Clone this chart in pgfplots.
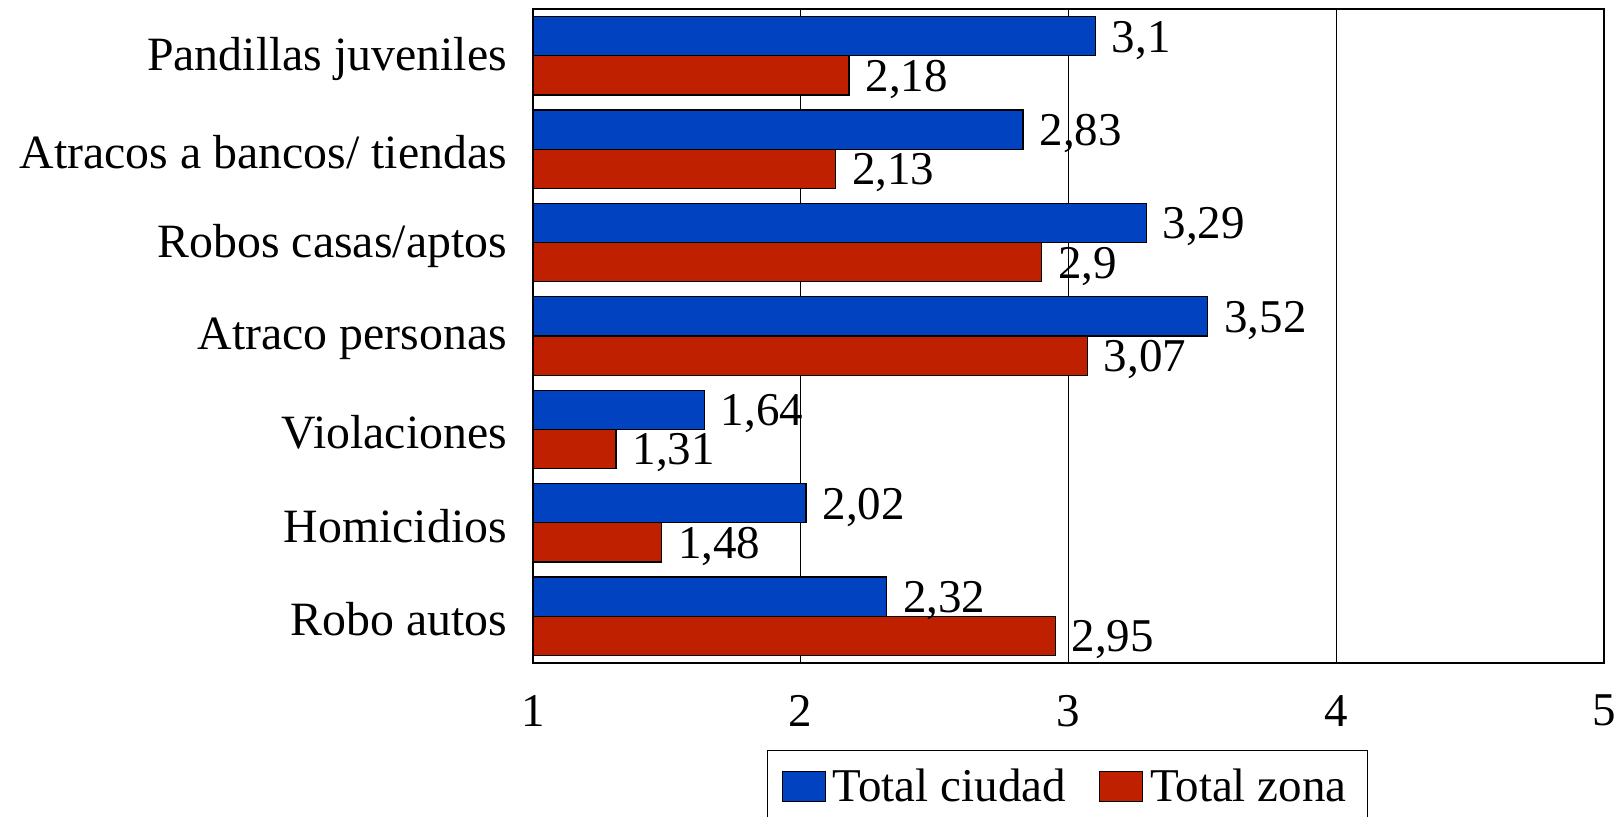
\documentclass[border=0pt]{standalone}
\usepackage{fontspec}
\setmainfont{Liberation Serif}
\usepackage{pgfplots}
\pgfplotsset{compat=1.18}
\definecolor{cblue}{RGB}{0,66,192}
\definecolor{cred}{RGB}{190,32,0}
\newcommand{\fz}{\fontsize{23.5}{28}\selectfont}
\newcommand{\fy}{\fontsize{23.9}{28}\selectfont}
\begin{document}
\begin{tikzpicture}[font=\fz]
\begin{axis}[
  name=ax,
  xbar,
  scale only axis,
  width=535.5pt, height=327pt,
  xmin=1, xmax=5,
  ymin=-0.5, ymax=6.5,
  y dir=reverse,
  xtick={1,2,3,4,5},
  ytick={0,1,2,3,4,5,6},
  yticklabels={Pandillas juveniles, Atracos a bancos/ tiendas, Robos casas/aptos, Atraco personas, Violaciones, Homicidios, Robo autos},
  major tick length=0pt,
  xmajorgrids,
  grid style={black, line width=0.7pt},
  axis line style={black, line width=0.7pt},
  /pgf/number format/assume math mode=true,
  tick label style={font=\fz},
  xticklabel style={yshift=-12.5pt},
  yticklabel style={font=\fy, xshift=-9.5pt, yshift=-1.5pt},
  bar width=0.42,
  nodes near coords,
  nodes near coords style={font=\fz, anchor=west, inner sep=0pt, xshift=8pt, yshift=-2pt, /pgf/number format/use comma, /pgf/number format/assume math mode=true},
  legend columns=2,
  legend style={at={(axis description cs:0.2185,-0.133)}, anchor=north west,
    draw=black, line width=0.7pt, font=\fz, inner xsep=7pt, inner ysep=6pt,
    nodes={inner xsep=3.5pt, inner ysep=3pt},
    /tikz/every even column/.append style={column sep=13pt}},
  legend image code/.code={\draw[#1, line width=0.6pt] (0pt,-7.5pt) rectangle (21.5pt,7.5pt);},
]
\addplot[fill=cblue, draw=black, line width=0.6pt, bar shift=-0.21] coordinates {(3.1,0) (2.83,1) (3.29,2) (3.52,3) (1.64,4) (2.02,5) (2.32,6)};
\addplot[fill=cred, draw=black, line width=0.6pt, bar shift=0.21] coordinates {(2.18,0) (2.13,1) (2.9,2) (3.07,3) (1.31,4) (1.48,5) (2.95,6)};
\legend{Total ciudad, Total zona}
\end{axis}
\pgfresetboundingbox
\path[use as bounding box] ([xshift=-266.5pt,yshift=-77pt]ax.south west) rectangle ([xshift=9.5pt,yshift=4.5pt]ax.north east);
\end{tikzpicture}
\end{document}
